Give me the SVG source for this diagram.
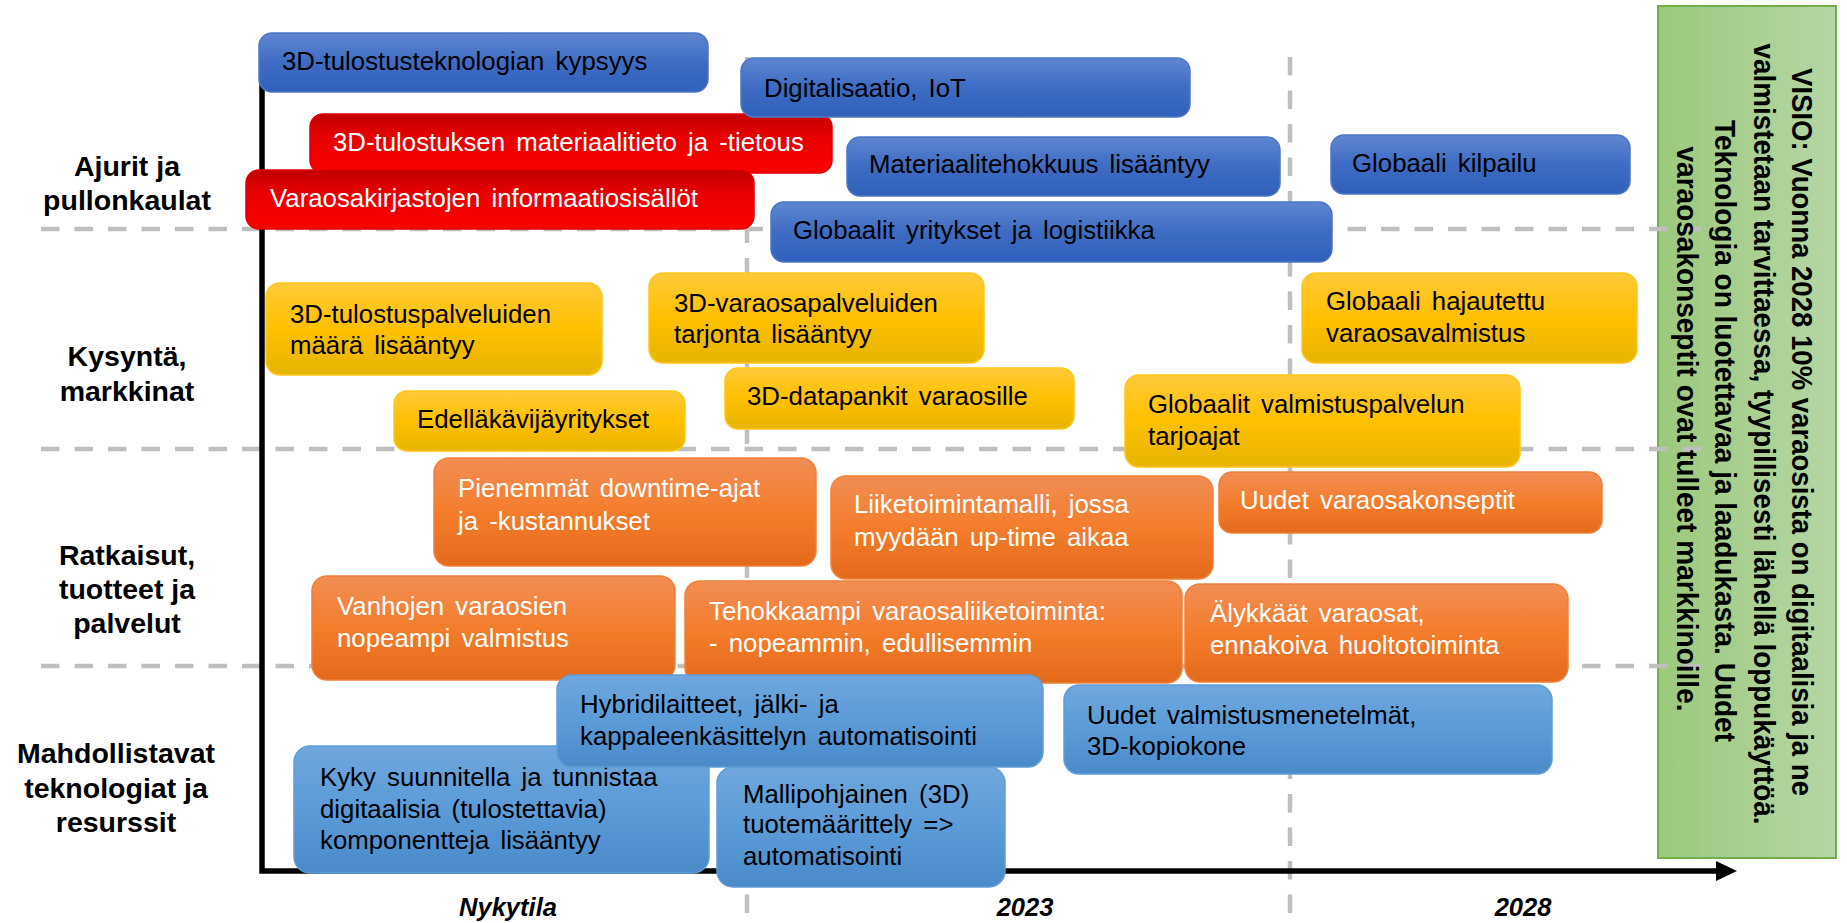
<svg xmlns="http://www.w3.org/2000/svg" width="1847" height="923" viewBox="0 0 1847 923">
<defs>
<linearGradient id="gDB" x1="0" y1="0" x2="0" y2="1"><stop offset="0" stop-color="#5F86D0"/><stop offset="0.5" stop-color="#3E6CC4"/><stop offset="1" stop-color="#3060BB"/></linearGradient>
<linearGradient id="gR" x1="0" y1="0" x2="0" y2="1"><stop offset="0" stop-color="#C00000"/><stop offset="0.4" stop-color="#E80000"/><stop offset="1" stop-color="#FF0000"/></linearGradient>
<linearGradient id="gY" x1="0" y1="0" x2="0" y2="1"><stop offset="0" stop-color="#FFCA3A"/><stop offset="0.5" stop-color="#FFC000"/><stop offset="1" stop-color="#E6B400"/></linearGradient>
<linearGradient id="gO" x1="0" y1="0" x2="0" y2="1"><stop offset="0" stop-color="#F18D55"/><stop offset="0.5" stop-color="#F47D2C"/><stop offset="1" stop-color="#E36A1B"/></linearGradient>
<linearGradient id="gLB" x1="0" y1="0" x2="0" y2="1"><stop offset="0" stop-color="#70A7DD"/><stop offset="0.5" stop-color="#5A9BD8"/><stop offset="1" stop-color="#4A8AC9"/></linearGradient>
<linearGradient id="gG" x1="0" y1="0" x2="1" y2="0"><stop offset="0" stop-color="#9CC97D"/><stop offset="1" stop-color="#B6D6A5"/></linearGradient>
<style>
.db{fill:url(#gDB);stroke:#4C77C6;stroke-width:1.5}
.rd{fill:url(#gR);stroke:#E00000;stroke-width:1.5}
.ye{fill:url(#gY);stroke:#FFC61A;stroke-width:1.5}
.or{fill:url(#gO);stroke:#F0803A;stroke-width:1.5}
.lb{fill:url(#gLB);stroke:#5E9DD6;stroke-width:1.5}
.t{font-family:"Liberation Sans",Arial,sans-serif;font-size:25.8px;word-spacing:4px;fill:#000}
.w{fill:#fff}
.lbl{font-family:"Liberation Sans",Arial,sans-serif;font-weight:bold;font-size:28.5px;text-anchor:middle;fill:#000}
.yr{font-family:"Liberation Sans",Arial,sans-serif;font-weight:bold;font-style:italic;font-size:25.5px;text-anchor:middle;fill:#000}
.vis{font-family:"Liberation Sans",Arial,sans-serif;font-weight:bold;font-size:29px;text-anchor:middle;fill:#000}
.dash{stroke:#BFBFBF;stroke-width:4.5;stroke-dasharray:18.5 15;fill:none}
.ax{stroke:#000;stroke-width:5.5;fill:none}
</style>
</defs>
<rect width="1847" height="923" fill="#fff"/>

<g id="vision-box">
<rect x="1658" y="6" width="178" height="852" fill="url(#gG)" stroke="#72AE4C" stroke-width="2"/>
</g>

<g id="connectors">
<path class="dash" d="M41 229H1705M41 449H1705M41 666H1705"/>
<path class="dash" d="M747 57V913M1290 57V913"/>
<path class="ax" d="M262 60V871H1720"/>
<polygon points="1716,861 1737,871 1716,881" fill="#000"/>
</g>

<g id="row-labels">
<g id="lbl-ajurit"><text class="lbl" x="127" y="176">Ajurit ja</text><text class="lbl" x="127" y="210">pullonkaulat</text></g>
<g id="lbl-kysynta"><text class="lbl" x="127" y="366">Kysyntä,</text><text class="lbl" x="127" y="401">markkinat</text></g>
<g id="lbl-ratkaisut"><text class="lbl" x="127" y="565">Ratkaisut,</text><text class="lbl" x="127" y="599">tuotteet ja</text><text class="lbl" x="127" y="633">palvelut</text></g>
<g id="lbl-mahdollistavat"><text class="lbl" x="116" y="763">Mahdollistavat</text><text class="lbl" x="116" y="798">teknologiat ja</text><text class="lbl" x="116" y="832">resurssit</text></g>
</g>

<g id="axis-labels">
<text class="yr" x="508" y="916">Nykytila</text>
<text class="yr" x="1025" y="916">2023</text>
<text class="yr" x="1523" y="916">2028</text>
</g>

<g id="n1"><rect class="db" x="259" y="33" width="449" height="59" rx="13"/><text class="t" x="282" y="70">3D-tulostusteknologian kypsyys</text></g>
<g id="n3"><rect class="rd" x="310" y="114" width="522" height="59" rx="13"/><text class="t w" x="333" y="151">3D-tulostuksen materiaalitieto ja -tietous</text></g>
<g id="n4"><rect class="rd" x="246" y="170" width="508" height="59" rx="13"/><text class="t w" x="270" y="207">Varaosakirjastojen informaatiosisällöt</text></g>
<g id="n2"><rect class="db" x="741" y="58" width="449" height="59" rx="13"/><text class="t" x="764" y="97">Digitalisaatio, IoT</text></g>
<g id="n5"><rect class="db" x="847" y="137" width="433" height="59" rx="13"/><text class="t" x="869" y="173">Materiaalitehokkuus lisääntyy</text></g>
<g id="n6"><rect class="db" x="1331" y="135" width="299" height="59" rx="13"/><text class="t" x="1352" y="172">Globaali kilpailu</text></g>
<g id="n7"><rect class="db" x="771" y="202" width="561" height="60" rx="13"/><text class="t" x="793" y="239">Globaalit yritykset ja logistiikka</text></g>

<g id="n8"><rect class="ye" x="266" y="283" width="336" height="92" rx="14"/><text class="t" x="290" y="323">3D-tulostuspalveluiden</text><text class="t" x="290" y="354">määrä lisääntyy</text></g>
<g id="n9"><rect class="ye" x="649" y="273" width="335" height="90" rx="14"/><text class="t" x="674" y="312">3D-varaosapalveluiden</text><text class="t" x="674" y="343">tarjonta lisääntyy</text></g>
<g id="n10"><rect class="ye" x="1302" y="273" width="335" height="90" rx="14"/><text class="t" x="1326" y="310">Globaali hajautettu</text><text class="t" x="1326" y="342">varaosavalmistus</text></g>
<g id="n11"><rect class="ye" x="394" y="391" width="291" height="60" rx="13"/><text class="t" x="417" y="428">Edelläkävijäyritykset</text></g>
<g id="n12"><rect class="ye" x="725" y="368" width="349" height="61" rx="13"/><text class="t" x="747" y="405">3D-datapankit varaosille</text></g>
<g id="n13"><rect class="ye" x="1125" y="375" width="395" height="92" rx="14"/><text class="t" x="1148" y="413">Globaalit valmistuspalvelun</text><text class="t" x="1148" y="445">tarjoajat</text></g>

<g id="n14"><rect class="or" x="434" y="458" width="382" height="108" rx="15"/><text class="t w" x="458" y="497">Pienemmät downtime-ajat</text><text class="t w" x="458" y="530">ja -kustannukset</text></g>
<g id="n15"><rect class="or" x="831" y="476" width="382" height="103" rx="15"/><text class="t w" x="854" y="513">Liiketoimintamalli, jossa</text><text class="t w" x="854" y="546">myydään up-time aikaa</text></g>
<g id="n16"><rect class="or" x="1219" y="472" width="383" height="61" rx="13"/><text class="t w" x="1240" y="509">Uudet varaosakonseptit</text></g>
<g id="n17"><rect class="or" x="312" y="576" width="363" height="104" rx="15"/><text class="t w" x="337" y="615">Vanhojen varaosien</text><text class="t w" x="337" y="647">nopeampi valmistus</text></g>
<g id="n18"><rect class="or" x="685" y="581" width="497" height="102" rx="15"/><text class="t w" x="709" y="620">Tehokkaampi varaosaliiketoiminta:</text><text class="t w" x="709" y="652">- nopeammin, edullisemmin</text></g>
<g id="n19"><rect class="or" x="1185" y="584" width="383" height="98" rx="15"/><text class="t w" x="1210" y="622">Älykkäät varaosat,</text><text class="t w" x="1210" y="654">ennakoiva huoltotoiminta</text></g>

<g id="n22"><rect class="lb" x="294" y="746" width="415" height="127" rx="16"/><text class="t" x="320" y="786">Kyky suunnitella ja tunnistaa</text><text class="t" x="320" y="818">digitaalisia (tulostettavia)</text><text class="t" x="320" y="849">komponentteja lisääntyy</text></g>
<g id="n23"><rect class="lb" x="717" y="767" width="288" height="120" rx="16"/><text class="t" x="743" y="803">Mallipohjainen (3D)</text><text class="t" x="743" y="833">tuotemäärittely =&gt;</text><text class="t" x="743" y="865">automatisointi</text></g>
<g id="n20"><rect class="lb" x="557" y="675" width="486" height="92" rx="15"/><text class="t" x="580" y="713">Hybridilaitteet, jälki- ja</text><text class="t" x="580" y="745">kappaleenkäsittelyn automatisointi</text></g>
<g id="n21"><rect class="lb" x="1064" y="685" width="488" height="89" rx="15"/><text class="t" x="1087" y="724">Uudet valmistusmenetelmät,</text><text class="t" x="1087" y="755">3D-kopiokone</text></g>

<g id="vision-text">
<text class="vis" transform="rotate(90)" x="432" y="-1792" textLength="728" lengthAdjust="spacingAndGlyphs">VISIO: Vuonna 2028 10% varaosista on digitaalisia ja ne</text>
<text class="vis" transform="rotate(90)" x="434" y="-1754" textLength="781" lengthAdjust="spacingAndGlyphs">valmistetaan tarvittaessa, tyypillisesti lähellä loppukäyttöä.</text>
<text class="vis" transform="rotate(90)" x="431" y="-1715" textLength="622" lengthAdjust="spacingAndGlyphs">Teknologia on luotettavaa ja laadukasta. Uudet</text>
<text class="vis" transform="rotate(90)" x="429" y="-1677" textLength="565" lengthAdjust="spacingAndGlyphs">varaosakonseptit ovat tulleet markkinoille.</text>
</g>
</svg>
